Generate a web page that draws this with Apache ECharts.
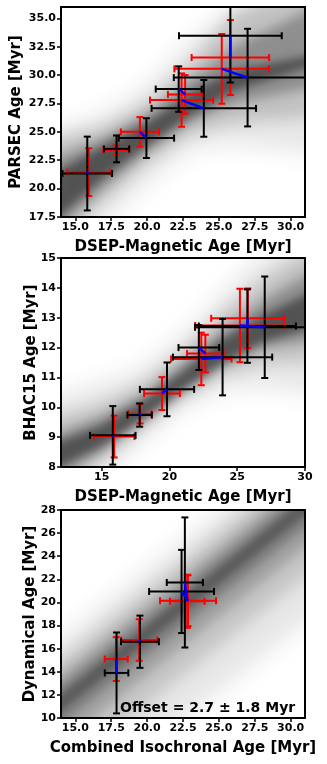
<!DOCTYPE html>
<html>
<head>
<meta charset="utf-8">
<script src="https://cdn.jsdelivr.net/npm/echarts@6/dist/echarts.min.js"></script>
<style>
  html, body { margin: 0; padding: 0; background: #fff; }
  #chart { width: 327px; height: 764px; }
</style>
</head>
<body>
<div id="chart"></div>
<script>
// panel 1: PARSEC vs DSEP-Magnetic
const blackX1 = [15.83, 17.87, 19.95, 22.2, 23.95, 25.8, 27.0];
const blackXErr1 = [1.73, 0.88, 1.93, 1.6, 3.64, 3.58, 5.14];
const blackY1 = [21.33, 23.5, 24.45, 28.77, 27.07, 33.47, 29.78];
const blackYErr1 = [3.25, 1.18, 1.75, 2.0, 2.5, 4.12, 4.3];
const redX1 = [15.93, 17.85, 19.5, 22.65, 22.4, 25.8, 25.2];
const redXErr1 = [1.5, 0.9, 1.33, 1.2, 2.2, 2.7, 3.3];
const redY1 = [21.45, 23.4, 25.0, 28.3, 27.8, 31.55, 30.55];
const redYErr1 = [2.1, 0.4, 1.3, 1.7, 2.35, 3.3, 3.07];

// panel 2: BHAC15 vs DSEP-Magnetic
const blackX2 = [15.82, 17.8, 19.82, 22.17, 23.92, 25.75, 27.03];
const blackXErr2 = [1.68, 0.9, 2.0, 1.5, 3.66, 3.58, 5.14];
const blackY2 = [9.06, 9.74, 10.6, 12.0, 11.68, 12.72, 12.68];
const blackYErr2 = [0.98, 0.39, 0.9, 0.75, 1.28, 1.23, 1.7];
const redX2 = [15.92, 17.83, 19.45, 22.65, 22.35, 25.78, 25.2];
const redXErr2 = [1.5, 0.85, 1.32, 1.35, 2.23, 2.7, 3.3];
const redY2 = [9.02, 9.78, 10.46, 11.8, 11.62, 12.98, 12.74];
const redYErr2 = [0.7, 0.32, 0.55, 0.63, 0.88, 1.0, 1.23];

// panel 3: Dynamical vs Combined isochronal
const blackX3 = [17.87, 19.5, 22.63, 22.4];
const blackXErr3 = [0.82, 1.32, 1.26, 2.26];
const blackY3 = [13.9, 16.6, 21.73, 20.95];
const blackYErr3 = [3.5, 2.26, 5.63, 3.6];
const redX3 = [17.85, 19.45, 22.8, 22.85];
const redXErr3 = [0.8, 1.25, 1.2, 1.95];
const redY3 = [15.1, 16.75, 20.1, 20.15];
const redYErr3 = [1.9, 1.8, 2.3, 2.2];

// gray fit bands: x positions + lower/upper edges per layer
const bandX1 = [12.5, 17, 20, 23, 26, 32.5];
const bandLo1 = [[12.5, 17, 20.5, 23.5, 24.0, 23.0], [13.8, 19, 22.3, 24.8, 25.8, 26.5], [15.0, 20, 23.2, 25.8, 27.5, 29.2], [16.0, 21, 23.8, 26.4, 28.6, 31.2]];
const bandHi1 = [[24.8, 26.5, 29, 33, 36, 39], [24.0, 25.5, 27.5, 31, 35.5, 39], [22.0, 24.5, 26.6, 29.5, 32.5, 36.5], [20.6, 23.8, 25.8, 28.4, 30.4, 32.0]];
const bandX2 = [10.5, 15, 18, 21, 24, 27, 31.5];
const bandLo2 = [[6.0, 7.6, 8.9, 10.0, 10.6, 10.7, 10.4], [6.8, 8.2, 9.3, 10.3, 11.1, 11.5, 11.6], [7.3, 8.5, 9.5, 10.5, 11.4, 12.0, 12.3], [7.7, 8.7, 9.6, 10.6, 11.5, 12.2, 12.8]];
const bandHi2 = [[10.2, 10.8, 11.3, 12.4, 13.8, 15.2, 16.5], [9.5, 10.1, 10.8, 11.9, 13.2, 14.3, 15.6], [8.9, 9.7, 10.4, 11.5, 12.6, 13.6, 14.8], [8.6, 9.4, 10.2, 11.2, 12.3, 13.1, 14.1]];
const bandX3 = [12, 33];
const bandLo3 = [[-0.7, 20.3], [3.3, 24.3], [5.8, 26.8], [7.5, 28.5], [8.6, 29.6]];
const bandHi3 = [[14.8, 35.8], [13.1, 34.1], [11.8, 32.8], [10.8, 31.8], [10.0, 31.0]];
const bandAlpha1 = [0.1, 0.16, 0.26, 0.42];
const bandBlur1 = [24, 16, 11, 8];
const bandAlpha3 = [0.1, 0.14, 0.18, 0.22, 0.26];
const bandBlur3 = [24, 16, 11, 8, 6];

// tick labels
const xTicks1 = [15, 17.5, 20, 22.5, 25, 27.5, 30];
const yTicks1 = [17.5, 20, 22.5, 25, 27.5, 30, 32.5, 35];
const xTicks2 = [15, 20, 25, 30];
const yTicks2 = [8, 9, 10, 11, 12, 13, 14, 15];
const yTicks3 = [10, 12, 14, 16, 18, 20, 22, 24, 26, 28];

const FONT = '"DejaVu Sans", sans-serif';
const SHIFT = 3000; // draw shape off-canvas, keep only its blurred shadow

function bandSeries(idx, xs, los, his, alphas, blurs) {
  return {
    type: 'custom', xAxisIndex: idx, yAxisIndex: idx, clip: true, silent: true,
    data: los.map((l, i) => [xs[1], l[1]]),
    renderItem: (params, api) => {
      const k = params.dataIndex;
      const top = xs.map((x, i) => api.coord([x, his[k][i]]));
      const bot = xs.map((x, i) => api.coord([x, los[k][i]])).reverse();
      const pts = top.concat(bot).map(p => [p[0] - SHIFT, p[1]]);
      return {
        type: 'polygon', shape: { points: pts },
        style: { fill: '#000', shadowBlur: blurs[k], shadowColor: 'rgba(0,0,0,' + alphas[k] + ')', shadowOffsetX: SHIFT, shadowOffsetY: 0 }
      };
    }
  };
}

function errSeries(idx, xs, xe, ys, ye, color) {
  return {
    type: 'custom', xAxisIndex: idx, yAxisIndex: idx, clip: true, silent: true,
    data: xs.map((x, i) => [x, ys[i]]),
    renderItem: (params, api) => {
      const i = params.dataIndex;
      const l = api.coord([xs[i] - xe[i], ys[i]]);
      const r = api.coord([xs[i] + xe[i], ys[i]]);
      const t = api.coord([xs[i], ys[i] + ye[i]]);
      const b = api.coord([xs[i], ys[i] - ye[i]]);
      const c = 3.5;
      const st = { stroke: color, lineWidth: 2 };
      const ln = (x1, y1, x2, y2) => ({ type: 'line', shape: { x1, y1, x2, y2 }, style: st });
      return {
        type: 'group',
        children: [
          ln(l[0], l[1], r[0], r[1]),
          ln(t[0], t[1], b[0], b[1]),
          ln(l[0], l[1] - c, l[0], l[1] + c),
          ln(r[0], r[1] - c, r[0], r[1] + c),
          ln(t[0] - c, t[1], t[0] + c, t[1]),
          ln(b[0] - c, b[1], b[0] + c, b[1])
        ]
      };
    }
  };
}

function linkSeries(idx, bx, by, rx, ry) {
  return {
    type: 'custom', xAxisIndex: idx, yAxisIndex: idx, clip: true, silent: true,
    data: bx.map((x, i) => [x, by[i]]),
    renderItem: (params, api) => {
      const i = params.dataIndex;
      const p = api.coord([bx[i], by[i]]);
      const q = api.coord([rx[i], ry[i]]);
      return { type: 'line', shape: { x1: p[0], y1: p[1], x2: q[0], y2: q[1] }, style: { stroke: '#0000ff', lineWidth: 2.5 } };
    }
  };
}

function axis(idx, min, max, ticks, name, dec, gap) {
  return {
    type: 'value', gridIndex: idx, min, max,
    name, nameLocation: 'middle', nameGap: gap, nameMoveOverlap: false,
    nameTextStyle: { fontFamily: FONT, fontWeight: 'bold', fontSize: 15, color: '#000' },
    axisLine: { show: true, onZero: false, lineStyle: { color: '#000', width: 2 } },
    axisTick: { show: true, length: 4, customValues: ticks, lineStyle: { color: '#000', width: 1.5 } },
    axisLabel: { customValues: ticks, fontFamily: FONT, fontWeight: 'bold', fontSize: 11, color: '#000', margin: 5,
      formatter: v => v.toFixed(dec) },
    splitLine: { show: false }
  };
}

const gridBase = { left: 61, width: 244, show: true, borderColor: '#000', borderWidth: 2, backgroundColor: '#fff' };

const option = {
  animation: false,
  grid: [
    Object.assign({ top: 7, height: 210 }, gridBase),
    Object.assign({ top: 258, height: 209 }, gridBase),
    Object.assign({ top: 510, height: 208 }, gridBase)
  ],
  xAxis: [
    axis(0, 14, 31, xTicks1, 'DSEP-Magnetic Age [Myr]', 1, 23),
    axis(1, 12, 30, xTicks2, 'DSEP-Magnetic Age [Myr]', 0, 23),
    axis(2, 14, 31, xTicks1, 'Combined Isochronal Age [Myr]', 1, 23)
  ],
  yAxis: [
    axis(0, 17.5, 36, yTicks1, 'PARSEC Age [Myr]', 1, 37),
    axis(1, 8, 15, yTicks2, 'BHAC15 Age [Myr]', 0, 22),
    axis(2, 10, 28, yTicks3, 'Dynamical Age [Myr]', 0, 23)
  ],
  graphic: [{
    type: 'text', left: 120, top: 701,
    style: { text: 'Offset = 2.7 \u00b1 1.8 Myr', font: 'bold 14px "DejaVu Sans", sans-serif', fill: '#000' }
  }],
  series: [
    bandSeries(0, bandX1, bandLo1, bandHi1, bandAlpha1, bandBlur1),
    errSeries(0, redX1, redXErr1, redY1, redYErr1, '#ff0000'),
    errSeries(0, blackX1, blackXErr1, blackY1, blackYErr1, '#000000'),
    linkSeries(0, blackX1, blackY1, redX1, redY1),
    bandSeries(1, bandX2, bandLo2, bandHi2, bandAlpha1, bandBlur1),
    errSeries(1, redX2, redXErr2, redY2, redYErr2, '#ff0000'),
    errSeries(1, blackX2, blackXErr2, blackY2, blackYErr2, '#000000'),
    linkSeries(1, blackX2, blackY2, redX2, redY2),
    bandSeries(2, bandX3, bandLo3, bandHi3, bandAlpha3, bandBlur3),
    errSeries(2, redX3, redXErr3, redY3, redYErr3, '#ff0000'),
    errSeries(2, blackX3, blackXErr3, blackY3, blackYErr3, '#000000'),
    linkSeries(2, blackX3, blackY3, redX3, redY3)
  ]
};

const chart = echarts.init(document.getElementById('chart'));
chart.setOption(option);
</script>
</body>
</html>
